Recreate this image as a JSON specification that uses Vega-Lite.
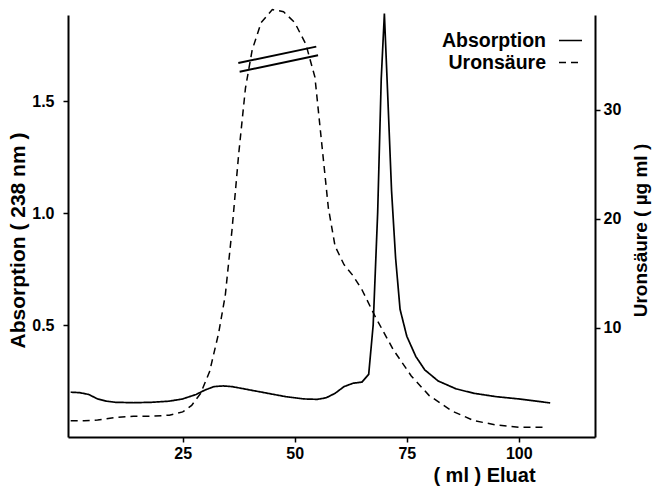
{
  "$schema": "https://vega.github.io/schema/vega-lite/v6.json",
  "width": 527,
  "height": 422,
  "autosize": "none",
  "padding": {"left": 68, "top": 15, "right": 57, "bottom": 52},
  "background": "white",
  "config": {
    "view": {"stroke": null},
    "axis": {
      "domainColor": "black", "domainWidth": 2, "tickColor": "black", "tickWidth": 1.5, "tickSize": 5,
      "labelFont": "Liberation Sans", "labelFontWeight": "bold", "labelFontSize": 16, "labelColor": "black",
      "titleFont": "Liberation Sans", "titleFontWeight": "bold", "titleFontSize": 20, "titleColor": "black",
      "grid": false
    },
    "legend": {
      "orient": "none", "legendX": 490, "legendY": 13, "labelAlign": "right", "labelOffset": -37,
      "labelFont": "Liberation Sans", "labelFontWeight": "bold", "labelFontSize": 19.5, "labelColor": "black",
      "symbolType": "stroke", "symbolSize": 529, "symbolStrokeWidth": 1.5, "symbolStrokeColor": "black",
      "rowPadding": -3, "padding": 0, "labelLimit": 0
    }
  },
  "datasets": {
    "curves": [
      {"series": "Absorption", "ml": 0, "value": 0.2},
      {"series": "Absorption", "ml": 2, "value": 0.198},
      {"series": "Absorption", "ml": 4, "value": 0.19},
      {"series": "Absorption", "ml": 6, "value": 0.17},
      {"series": "Absorption", "ml": 8, "value": 0.16},
      {"series": "Absorption", "ml": 10, "value": 0.155},
      {"series": "Absorption", "ml": 14, "value": 0.153},
      {"series": "Absorption", "ml": 18, "value": 0.155},
      {"series": "Absorption", "ml": 22, "value": 0.16},
      {"series": "Absorption", "ml": 25, "value": 0.17},
      {"series": "Absorption", "ml": 28, "value": 0.19},
      {"series": "Absorption", "ml": 30, "value": 0.21},
      {"series": "Absorption", "ml": 32, "value": 0.225},
      {"series": "Absorption", "ml": 34, "value": 0.228},
      {"series": "Absorption", "ml": 36, "value": 0.225},
      {"series": "Absorption", "ml": 40, "value": 0.21},
      {"series": "Absorption", "ml": 44, "value": 0.195},
      {"series": "Absorption", "ml": 48, "value": 0.18},
      {"series": "Absorption", "ml": 52, "value": 0.17},
      {"series": "Absorption", "ml": 55, "value": 0.168},
      {"series": "Absorption", "ml": 57, "value": 0.175},
      {"series": "Absorption", "ml": 59, "value": 0.195},
      {"series": "Absorption", "ml": 61, "value": 0.225},
      {"series": "Absorption", "ml": 63, "value": 0.24},
      {"series": "Absorption", "ml": 65, "value": 0.245},
      {"series": "Absorption", "ml": 66.5, "value": 0.28},
      {"series": "Absorption", "ml": 67.5, "value": 0.5},
      {"series": "Absorption", "ml": 68.5, "value": 1.0},
      {"series": "Absorption", "ml": 69.3, "value": 1.6},
      {"series": "Absorption", "ml": 70, "value": 1.89},
      {"series": "Absorption", "ml": 70.8, "value": 1.5},
      {"series": "Absorption", "ml": 71.6, "value": 1.1},
      {"series": "Absorption", "ml": 72.5, "value": 0.8},
      {"series": "Absorption", "ml": 73.5, "value": 0.57},
      {"series": "Absorption", "ml": 75, "value": 0.45},
      {"series": "Absorption", "ml": 77, "value": 0.36},
      {"series": "Absorption", "ml": 79, "value": 0.3},
      {"series": "Absorption", "ml": 82, "value": 0.25},
      {"series": "Absorption", "ml": 86, "value": 0.215},
      {"series": "Absorption", "ml": 90, "value": 0.195},
      {"series": "Absorption", "ml": 95, "value": 0.18},
      {"series": "Absorption", "ml": 100, "value": 0.17},
      {"series": "Absorption", "ml": 104, "value": 0.16},
      {"series": "Absorption", "ml": 107, "value": 0.152},
      {"series": "Uronsäure", "ml": 0, "value": 1.5},
      {"series": "Uronsäure", "ml": 3, "value": 1.5},
      {"series": "Uronsäure", "ml": 6, "value": 1.55},
      {"series": "Uronsäure", "ml": 10, "value": 1.8},
      {"series": "Uronsäure", "ml": 14, "value": 1.9},
      {"series": "Uronsäure", "ml": 18, "value": 1.9},
      {"series": "Uronsäure", "ml": 22, "value": 2.0},
      {"series": "Uronsäure", "ml": 25, "value": 2.3},
      {"series": "Uronsäure", "ml": 27, "value": 2.9},
      {"series": "Uronsäure", "ml": 29, "value": 4.0},
      {"series": "Uronsäure", "ml": 31, "value": 6.0},
      {"series": "Uronsäure", "ml": 33, "value": 9.5},
      {"series": "Uronsäure", "ml": 34.5, "value": 13},
      {"series": "Uronsäure", "ml": 36, "value": 19},
      {"series": "Uronsäure", "ml": 37.5, "value": 26},
      {"series": "Uronsäure", "ml": 39, "value": 32},
      {"series": "Uronsäure", "ml": 40.5, "value": 35.5},
      {"series": "Uronsäure", "ml": 42.5, "value": 38},
      {"series": "Uronsäure", "ml": 45, "value": 39.2},
      {"series": "Uronsäure", "ml": 47.5, "value": 39.0},
      {"series": "Uronsäure", "ml": 50, "value": 38},
      {"series": "Uronsäure", "ml": 52.5, "value": 36},
      {"series": "Uronsäure", "ml": 54.5, "value": 33},
      {"series": "Uronsäure", "ml": 56, "value": 27},
      {"series": "Uronsäure", "ml": 57.5, "value": 21},
      {"series": "Uronsäure", "ml": 59, "value": 17.5},
      {"series": "Uronsäure", "ml": 61, "value": 15.8},
      {"series": "Uronsäure", "ml": 63, "value": 14.8},
      {"series": "Uronsäure", "ml": 65, "value": 13.5},
      {"series": "Uronsäure", "ml": 68, "value": 11},
      {"series": "Uronsäure", "ml": 72, "value": 8},
      {"series": "Uronsäure", "ml": 76, "value": 5.6},
      {"series": "Uronsäure", "ml": 80, "value": 3.8},
      {"series": "Uronsäure", "ml": 85, "value": 2.4},
      {"series": "Uronsäure", "ml": 90, "value": 1.5},
      {"series": "Uronsäure", "ml": 95, "value": 1.1},
      {"series": "Uronsäure", "ml": 100, "value": 0.9},
      {"series": "Uronsäure", "ml": 106, "value": 0.9}
    ],
    "breakmarks": [
      {"ml": 37.4, "value": 34.3, "ml2": 54.8, "value2": 35.8},
      {"ml": 37.7, "value": 33.5, "ml2": 55.2, "value2": 35.0}
    ]
  },
  "encoding": {
    "x": {
      "field": "ml", "type": "quantitative",
      "scale": {"domain": [-0.6, 117], "nice": false, "zero": false},
      "axis": {
        "values": [25, 50, 75, 100], "labelPadding": 3,
        "title": "( ml ) Eluat", "titleX": 416, "titleY": 38, "titleAlign": "center", "titleBaseline": "middle"
      }
    }
  },
  "layer": [
    {
      "data": {"name": "curves"},
      "transform": [{"filter": "datum.series === 'Absorption'"}],
      "mark": {"type": "line", "color": "black", "strokeWidth": 1.7},
      "encoding": {
        "y": {
          "field": "value", "type": "quantitative",
          "scale": {"domain": [0, 1.884], "nice": false, "zero": false},
          "axis": {
            "orient": "left", "values": [0.5, 1.0, 1.5], "format": ".1f", "labelPadding": 9,
            "title": "Absorption  ( 238 nm )", "titleAngle": 270, "titleX": -50, "titleY": 225,
            "titleAlign": "center", "titleBaseline": "middle", "titleFontSize": 21
          }
        },
        "strokeDash": {
          "field": "series", "type": "nominal",
          "scale": {"domain": ["Absorption", "Uronsäure"], "range": [[1, 0], [7, 5]]},
          "legend": {"title": null}
        }
      }
    },
    {
      "encoding": {
        "y": {
          "field": "value", "type": "quantitative",
          "scale": {"domain": [0, 38.7], "nice": false, "zero": false},
          "axis": {
            "orient": "right", "values": [10, 20, 30], "labelPadding": 3,
            "title": "Uronsäure  ( µg ml )", "titleAngle": 270, "titleX": 45, "titleY": 215,
            "titleAlign": "center", "titleBaseline": "middle", "titleFontSize": 19
          }
        }
      },
      "layer": [
        {
          "data": {"name": "curves"},
          "transform": [{"filter": "datum.series === 'Uronsäure'"}],
          "mark": {"type": "line", "color": "black", "strokeWidth": 1.5},
          "encoding": {
            "strokeDash": {
              "field": "series", "type": "nominal",
              "scale": {"domain": ["Absorption", "Uronsäure"], "range": [[1, 0], [7, 5]]},
              "legend": {"title": null}
            }
          }
        },
        {
          "data": {"name": "breakmarks"},
          "mark": {"type": "rule", "color": "black", "strokeWidth": 2},
          "encoding": {
            "x2": {"field": "ml2"},
            "y2": {"field": "value2"}
          }
        }
      ]
    }
  ],
  "resolve": {"scale": {"y": "independent"}}
}
